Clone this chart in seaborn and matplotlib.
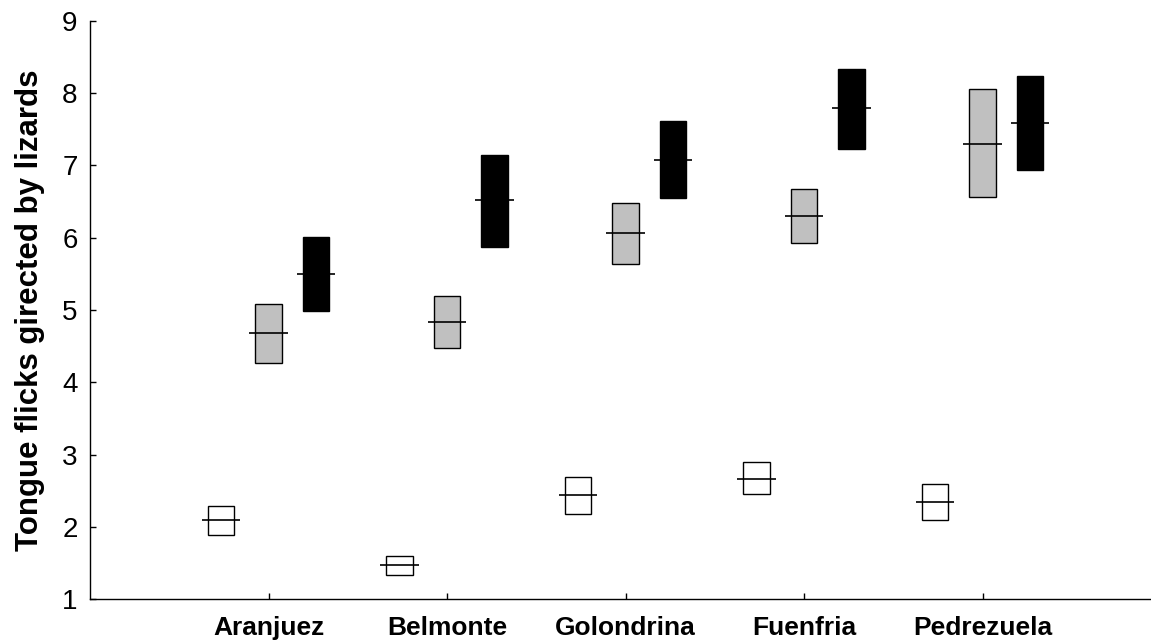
import numpy as np
import pandas as pd
import seaborn as sns
import matplotlib.pyplot as plt

sns.set_style('ticks')
plt.rcParams['font.family'] = ['Liberation Sans', 'DejaVu Sans']
plt.rcParams['text.color'] = 'black'
plt.rcParams['axes.labelcolor'] = 'black'

sites = ['Aranjuez', 'Belmonte', 'Golondrina', 'Fuenfria', 'Pedrezuela']
groups = ['white', 'gray', 'black']

# mean and mean +/- SE
white_mean = [2.09, 1.47, 2.44, 2.67, 2.34]
white_low = [1.89, 1.33, 2.18, 2.45, 2.09]
white_high = [2.29, 1.60, 2.69, 2.90, 2.59]

gray_mean = [4.68, 4.83, 6.06, 6.30, 7.30]
gray_low = [4.27, 4.47, 5.63, 5.93, 6.56]
gray_high = [5.08, 5.19, 6.48, 6.67, 8.05]

black_mean = [5.50, 6.52, 7.08, 7.79, 7.58]
black_low = [4.98, 5.87, 6.55, 7.23, 6.93]
black_high = [6.01, 7.15, 7.61, 8.33, 8.23]

df = pd.DataFrame({
    'site': sites * 3,
    'group': np.repeat(groups, len(sites)),
    'mean': white_mean + gray_mean + black_mean,
    'low': white_low + gray_low + black_low,
    'high': white_high + gray_high + black_high,
})

fills = {'white': 'white', 'gray': '#c0c0c0', 'black': 'black'}
offsets = {'white': -0.266, 'gray': 0.0, 'black': 0.266}
box_w = 0.151
line_w = 0.218

fig = plt.figure(figsize=(11.51, 6.43), dpi=100)
ax = fig.add_axes([90 / 1151, 43.7 / 643, 1061 / 1151, 578.6 / 643])

for g in groups:
    sub = df[df['group'] == g]
    x = np.arange(len(sites)) + offsets[g]
    ax.bar(x, sub['high'] - sub['low'], bottom=sub['low'], width=box_w,
           color=fills[g], edgecolor='black', linewidth=1.0, zorder=2)
    ax.hlines(sub['mean'], x - line_w / 2, x + line_w / 2,
              color='black', linewidth=1.2, zorder=3)

ax.set_xlim(-1, -1 + 1061 / 178.5)
ax.set_ylim(1, 9)
ax.set_yticks(range(1, 10))
ax.set_xticks(range(len(sites)))
ax.set_xticklabels(sites, fontsize=19, fontweight='bold')
ax.tick_params(axis='y', labelsize=20, direction='in', length=4, width=1, pad=9,
               colors='black')
ax.tick_params(axis='x', direction='in', length=4, width=1, pad=12,
               colors='black')
ax.set_ylabel('Tongue flicks girected by lizards', fontsize=22.5,
              fontweight='bold', labelpad=12)
sns.despine(ax=ax)
for s in ['left', 'bottom']:
    ax.spines[s].set_linewidth(1.0)
    ax.spines[s].set_color('black')

fig.savefig('out.png', dpi=100)
